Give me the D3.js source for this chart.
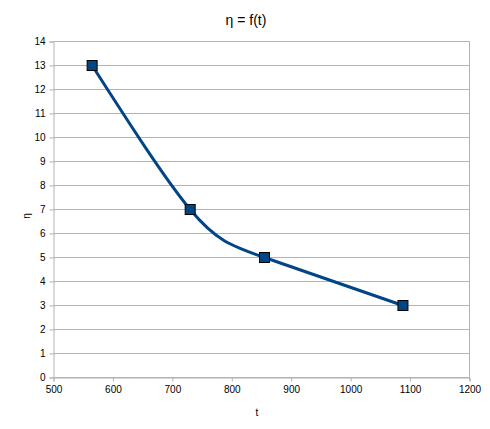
<!DOCTYPE html>
<html><head><meta charset="utf-8">
<script src="https://cdn.jsdelivr.net/npm/d3@7"></script>
<style>body{margin:0;background:#fff;} text{font-family:"Liberation Sans",Arial,sans-serif;}</style>
</head><body>
<svg id="c" width="490" height="429"></svg>
<script>
const tValues = [565, 730, 855, 1088];
const etaValues = [13, 7, 5, 3];
const xTicks = [500, 600, 700, 800, 900, 1000, 1100, 1200];
const yTicks = [0,1,2,3,4,5,6,7,8,9,10,11,12,13,14];
const titleText = "η = f(t)";
const xLabel = "t", yLabel = "η";

const svg = d3.select("#c");
svg.append("rect").attr("width",490).attr("height",429).attr("fill","#fff");
const L=53.5, R=469.5, T=41.5, B=377.5;
const x = d3.scaleLinear().domain([500,1200]).range([L,R]);
const y = d3.scaleLinear().domain([0,14]).range([B,T]);

svg.append("g").selectAll("line").data(yTicks).join("line")
  .attr("x1",L).attr("x2",R).attr("y1",d=>y(d)).attr("y2",d=>y(d))
  .attr("stroke","#b3b3b3").attr("stroke-width",1);
svg.append("line").attr("x1",R).attr("x2",R).attr("y1",T).attr("y2",B).attr("stroke","#b3b3b3");

const xAxis = svg.append("g").attr("transform",`translate(0,${B})`)
  .call(d3.axisBottom(x).tickValues(xTicks).tickSize(4).tickPadding(4).tickFormat(d3.format("d")));
const yAxis = svg.append("g").attr("transform",`translate(${L},0)`)
  .call(d3.axisLeft(y).tickValues(yTicks).tickSize(4).tickPadding(4).tickFormat(d3.format("d")));
[xAxis,yAxis].forEach(a=>{
  a.select(".domain").attr("stroke","#b3b3b3");
  a.selectAll(".tick line").attr("stroke","#b3b3b3");
  a.selectAll("text").attr("fill","#000").style("font-size","10px").style("font-family","'Liberation Sans',Arial,sans-serif");
});

const data = tValues.map((t,i)=>({t, e: etaValues[i]}));
svg.append("path").datum(data)
  .attr("d", d3.line().x(d=>x(d.t)).y(d=>y(d.e)).curve(d3.curveNatural))
  .attr("fill","none").attr("stroke","#004586").attr("stroke-width",3);
svg.append("g").selectAll("rect").data(data).join("rect")
  .attr("x",d=>x(d.t)-5).attr("y",d=>y(d.e)-5).attr("width",10).attr("height",10)
  .attr("fill","#004586").attr("stroke","#000").attr("stroke-width",1);

svg.append("text").attr("x",246).attr("y",25).attr("text-anchor","middle")
  .style("font-size","14px").text(titleText);
svg.append("text").attr("x",257).attr("y",416).attr("text-anchor","middle")
  .style("font-size","10px").text(xLabel);
svg.append("text").attr("transform","translate(30,216) rotate(-90)").attr("text-anchor","middle")
  .style("font-size","10px").text(yLabel);
</script>
</body></html>
